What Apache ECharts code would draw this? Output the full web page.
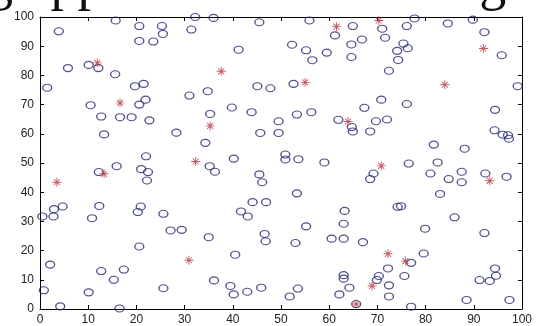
<!DOCTYPE html>
<html>
<head>
<meta charset="utf-8">
<script src="https://cdn.jsdelivr.net/npm/echarts@6/dist/echarts.min.js"></script>
<style>
  html, body { margin: 0; padding: 0; background: #fff; }
  #main { width: 537px; height: 326px; }
</style>
</head>
<body>
<div id="main"></div>
<script>
// node positions (x, y in 0..100)
var nodes = [
  [3.9,95.1],[15.7,98.8],[20.6,96.9],[25.3,96.9],[25.5,94.2],[20.6,91.8],[23.5,91.6],[32.2,100.0],[31.4,95.7],
  [10.1,83.6],[5.8,82.5],[12.1,82.5],[15.6,80.4],[1.5,75.8],[19.7,76.3],[21.5,77.1],[31.0,73.1],
  [10.5,69.8],[20.6,70.0],[21.9,71.7],
  [12.7,65.9],[16.6,65.7],[19.0,65.7],[22.7,64.6],[13.3,59.8],[28.3,60.4],[22.0,52.3],[15.9,48.9],
  [12.2,46.9],[21.0,47.9],[22.4,46.9],[22.2,44.0],
  [0.5,31.7],[2.9,34.2],[4.7,35.1],[2.8,31.7],[12.3,35.3],[10.8,31.1],[20.9,35.1],[20.3,33.2],[25.6,32.6],
  [27.1,26.9],[29.4,27.1],[20.6,21.4],[2.1,15.2],[12.7,13.0],[17.4,13.5],[15.3,10.0],[0.8,6.4],[10.1,5.7],
  [25.6,7.1],[4.2,0.9],[16.5,0.2],
  [36.0,99.7],[45.5,98.2],[55.9,98.8],[64.9,96.9],[61.2,93.7],[64.6,90.6],[64.6,86.3],[41.2,88.8],[52.3,90.5],
  [55.2,88.6],[56.5,85.2],[59.5,87.8],[52.6,77.1],[45.1,76.3],[47.8,75.6],[34.8,74.6],[39.8,69.0],[35.3,66.8],
  [43.9,67.4],[53.3,66.6],[56.3,67.4],
  [49.5,64.3],[45.7,60.3],[49.5,60.3],[61.9,64.8],[64.7,62.3],[64.9,60.8],[34.3,56.9],[35.2,48.9],[36.3,47.0],
  [40.2,51.5],[50.9,52.9],[50.9,51.2],[53.6,51.3],[59.0,50.2],[45.5,46.1],[46.1,43.4],[53.3,39.6],[44.1,36.6],
  [46.9,36.6],
  [41.7,33.4],[43.1,31.7],[63.2,33.6],[63.0,29.2],[55.2,28.3],[35.0,24.6],[46.6,25.7],[46.8,23.2],[53.0,22.6],
  [60.5,24.1],[63.0,24.1],[40.5,18.6],[63.0,11.6],[63.0,10.4],[64.2,7.3],[62.1,5.0],[36.1,9.8],[39.5,7.9],
  [40.2,5.0],[43.0,5.9],[45.9,7.3],[51.8,4.3],[53.5,7.0],
  [71.0,96.0],[76.1,96.9],[77.7,99.5],[84.6,97.8],[89.8,99.1],[92.2,94.8],[66.8,92.3],[71.6,92.9],[75.4,90.9],
  [76.3,89.3],[74.1,88.4],[74.3,85.3],[72.4,81.6],[95.8,86.9],[99.1,76.3],[70.8,71.7],[67.3,68.9],[76.1,70.2],
  [94.4,68.2],
  [69.7,64.3],[72.0,64.9],[68.5,60.8],[94.3,61.2],[96.0,59.7],[97.1,59.5],[97.3,58.3],[81.7,56.3],[88.1,54.9],
  [76.5,49.8],[82.5,50.2],[69.2,46.4],[68.5,44.5],[81.0,46.4],[84.8,44.5],[87.5,47.0],[87.5,43.4],[92.4,46.4],
  [96.8,45.3],[83.0,39.4],[74.2,35.0],[74.9,35.2],
  [86.0,31.4],[79.9,27.5],[92.2,26.0],[67.0,22.9],[79.6,19.0],[77.0,15.8],[72.2,13.9],[70.3,11.3],[69.9,9.9],
  [75.6,11.3],[72.4,8.1],[72.4,4.3],[94.4,13.9],[94.6,11.4],[91.2,9.9],[93.3,9.6],[88.5,3.1],[97.4,3.1],
  [65.6,1.7],[77.0,0.8]
];

// cluster heads (red stars)
var heads = [
  [11.9,84.3],[16.6,70.6],[13.3,46.3],[3.5,43.4],[32.3,50.5],[30.9,16.7],[61.5,96.7],[37.6,81.4],[55.0,77.6],
  [35.3,62.7],[63.9,64.2],[70.3,98.8],[92.0,89.2],[84.0,76.8],[70.8,49.0],[93.3,43.9],[72.2,18.9],[75.8,16.4],
  [68.9,7.9],[65.6,1.7]
];

var xTicks = [0, 10, 20, 30, 40, 50, 60, 70, 80, 90, 100];
var yTicks = [0, 10, 20, 30, 40, 50, 60, 70, 80, 90, 100];

// matlab style asterisk
var starPath = 'path://M0,4.5L10,4.5L10,5.5L0,5.5Z M4.5,0L5.5,0L5.5,10L4.5,10Z ' +
  'M1.3,2L2,1.3L8.7,8L8,8.7Z M8,1.3L8.7,2L2,8.7L1.3,8Z';

var chart = echarts.init(document.getElementById('main'));

var axisBase = {
  type: 'value',
  min: 0,
  max: 100,
  interval: 10,
  splitLine: { show: false },
  axisLine: { show: true, onZero: false, lineStyle: { color: '#000', width: 1 } },
  axisTick: { show: true, inside: true, length: 4, lineStyle: { color: '#000' } }
};
var labelStyle = { color: '#222', fontSize: 12, fontFamily: 'Liberation Sans' };

var option = {
  animation: false,
  backgroundColor: '#fff',
  grid: { left: 40, right: 15, top: 17, bottom: 15 },
  graphic: [{
    type: 'text',
    x: -14,
    y: -42,
    style: {
      text: 'g approach in clustering',
      font: '54px "Liberation Serif"',
      fill: '#111',
      verticalAlign: 'top'
    }
  }],
  xAxis: [
    Object.assign({}, axisBase, {
      position: 'bottom',
      axisLabel: Object.assign({ margin: 5, formatter: function (v) { return xTicks.indexOf(v) >= 0 ? v : ''; } }, labelStyle)
    }),
    Object.assign({}, axisBase, { position: 'top', axisLabel: { show: false } })
  ],
  yAxis: [
    Object.assign({}, axisBase, {
      position: 'left',
      axisLabel: Object.assign({ margin: 6, formatter: function (v) { return yTicks.indexOf(v) >= 0 ? v : ''; } }, labelStyle)
    }),
    Object.assign({}, axisBase, { position: 'right', axisLabel: { show: false } })
  ],
  series: [
    {
      type: 'scatter',
      data: nodes,
      symbol: 'circle',
      symbolSize: [9, 7],
      itemStyle: { color: 'rgba(0,0,0,0)', borderColor: '#262673', borderWidth: 1.2 }
    },
    {
      type: 'scatter',
      data: heads,
      symbol: starPath,
      symbolSize: 9,
      itemStyle: { color: '#b5303c' }
    }
  ]
};

chart.setOption(option);
</script>
</body>
</html>
